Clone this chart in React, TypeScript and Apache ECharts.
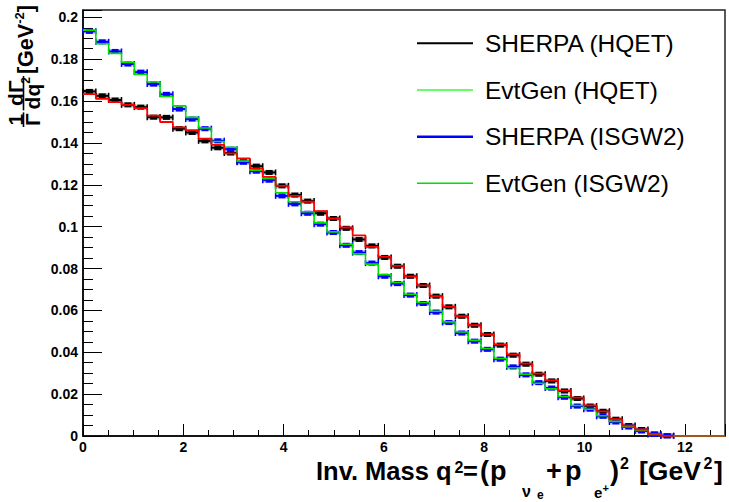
import React, { useEffect, useRef } from "react";
import * as echarts from "echarts";

// ---- data (50 bins, 0 .. 12.8 GeV^2) ----
const X_MIN = 0;
const X_MAX = 12.8;
const N_BINS = 50;
const Y_MAX = 0.2035;

const xTickLabels = ["0", "2", "4", "6", "8", "10", "12"];
const yTickLabels = ["0", "0.02", "0.04", "0.06", "0.08", "0.1", "0.12", "0.14", "0.16", "0.18", "0.2"];

const sherpaHQET = [
  0.1646, 0.1625, 0.1605, 0.1582, 0.1571, 0.1523, 0.1522, 0.1468, 0.145, 0.141,
  0.1377, 0.1352, 0.131, 0.1289, 0.1259, 0.1195, 0.1151, 0.1122, 0.1064, 0.1039,
  0.0992, 0.0939, 0.0908, 0.0853, 0.0811, 0.0763, 0.0719, 0.0668, 0.0617, 0.0572,
  0.0529, 0.0485, 0.0434, 0.0386, 0.0343, 0.0295, 0.0263, 0.0215, 0.0179, 0.0143,
  0.0118, 0.008, 0.005, 0.0031, 0.001, 0.0001, 0, 0, 0, 0,
];
const evtgenHQET = [
  0.1633, 0.1611, 0.1595, 0.1582, 0.1566, 0.153, 0.15, 0.1474, 0.1461, 0.142,
  0.1391, 0.135, 0.1326, 0.1278, 0.1238, 0.1195, 0.1147, 0.1119, 0.1074, 0.1039,
  0.0996, 0.0958, 0.0903, 0.0856, 0.0813, 0.0763, 0.072, 0.0668, 0.0617, 0.0572,
  0.0529, 0.0485, 0.0437, 0.039, 0.0346, 0.0298, 0.0266, 0.0217, 0.0183, 0.0146,
  0.0118, 0.008, 0.005, 0.0031, 0.001, 0.0001, 0, 0, 0, 0,
];
const sherpaISGW2 = [
  0.1933, 0.1883, 0.1837, 0.1777, 0.1738, 0.1681, 0.1632, 0.1562, 0.1514, 0.1468,
  0.141, 0.137, 0.1308, 0.1265, 0.1222, 0.1147, 0.1109, 0.1064, 0.1012, 0.0972,
  0.0911, 0.0876, 0.0826, 0.0763, 0.0728, 0.0673, 0.0633, 0.0592, 0.0542, 0.0492,
  0.0453, 0.0414, 0.0367, 0.033, 0.0292, 0.0255, 0.0229, 0.0185, 0.0143, 0.0128,
  0.0094, 0.0067, 0.0043, 0.0024, 0.0007, 0.0001, 0, 0, 0, 0,
];
const evtgenISGW2 = [
  0.1939, 0.1874, 0.1828, 0.1785, 0.1727, 0.1691, 0.1622, 0.1577, 0.1522, 0.1471,
  0.1407, 0.1379, 0.1313, 0.127, 0.123, 0.1162, 0.1119, 0.1071, 0.1018, 0.0975,
  0.0916, 0.087, 0.0821, 0.077, 0.0733, 0.0677, 0.0638, 0.0596, 0.0545, 0.0497,
  0.0457, 0.0418, 0.037, 0.0326, 0.0295, 0.0252, 0.0225, 0.0189, 0.0146, 0.0128,
  0.0097, 0.007, 0.0045, 0.0026, 0.0008, 0.0001, 0, 0, 0, 0,
];

const legendNames = ["SHERPA (HQET)", "EvtGen (HQET)", "SHERPA (ISGW2)", "EvtGen (ISGW2)"];

// ---- helpers ----
const BW = (X_MAX - X_MIN) / N_BINS;
const edge = (i: number) => X_MIN + i * BW;

function stepData(vals: number[]) {
  const d: number[][] = vals.map((v, i) => [edge(i), v]);
  d.push([X_MAX, vals[vals.length - 1]]);
  return d;
}
function pointData(vals: number[]) {
  const d: number[][] = [];
  vals.forEach((v, i) => {
    if (v > 0) d.push([edge(i), edge(i + 1), v]);
  });
  return d;
}
// empty tail where both EvtGen histograms are zero (drawn brownish where they overlap)
function tailData(a: number[], b: number[]) {
  let first = a.length;
  for (let i = a.length - 1; i >= 0; i--) {
    if (a[i] === 0 && b[i] === 0) first = i;
    else break;
  }
  const d: number[][] = [];
  for (let i = first; i < a.length; i++) d.push([edge(i), 0]);
  d.push([X_MAX, 0]);
  return d;
}

const FONT = "'Liberation Sans', Arial, Helvetica, sans-serif";

let _ctx: CanvasRenderingContext2D | null = null;
function measure(text: string, size: number, weight = "bold") {
  if (!_ctx) _ctx = document.createElement("canvas").getContext("2d");
  if (!_ctx) return text.length * size * 0.55;
  _ctx.font = `${weight} ${size}px ${FONT}`;
  return _ctx.measureText(text).width;
}

function errRender(color: string, halo: string) {
  return (_params: any, api: any) => {
    const lo = api.value(0);
    const hi = api.value(1);
    const v = api.value(2);
    const p0 = api.coord([lo, v]);
    const p1 = api.coord([hi, v]);
    const y = p0[1];
    const xc = (p0[0] + p1[0]) / 2;
    return {
      type: "group",
      children: [
        { type: "line", shape: { x1: p0[0], y1: y, x2: p1[0], y2: y }, style: { stroke: halo, lineWidth: 5 } },
        { type: "line", shape: { x1: p0[0], y1: y, x2: p1[0], y2: y }, style: { stroke: color, lineWidth: 2 } },
        { type: "line", shape: { x1: p0[0], y1: y - 3, x2: p0[0], y2: y + 3 }, style: { stroke: color, lineWidth: 1.5 } },
        { type: "line", shape: { x1: p1[0], y1: y - 3, x2: p1[0], y2: y + 3 }, style: { stroke: color, lineWidth: 1.5 } },
        { type: "rect", shape: { x: xc - 3.5, y: y - 2.5, width: 7, height: 5 }, style: { fill: color } },
      ],
    };
  };
}

function txt(text: string, x: number, y: number, size: number, opts: any = {}) {
  return {
    type: "text",
    x,
    y,
    style: {
      text,
      font: `${opts.weight || "bold"} ${size}px ${FONT}`,
      fill: "#000",
      align: opts.align || "left",
      verticalAlign: "middle",
    },
  };
}

export default function App() {
  const ref = useRef<HTMLDivElement>(null);

  useEffect(() => {
    if (!ref.current) return;
    const chart = echarts.init(ref.current, undefined, { renderer: "svg" });

    const fmtX = (v: number) => {
      const k = Math.round(v / 2);
      return Math.abs(v - k * 2) < 1e-6 && xTickLabels[k] !== undefined ? xTickLabels[k] : "";
    };
    const fmtY = (v: number) => {
      const k = Math.round(v / 0.02);
      return Math.abs(v - k * 0.02) < 1e-7 && yTickLabels[k] !== undefined ? yTickLabels[k] : "";
    };

    // legend
    const legendColors = ["#000000", "#66ff66", "#0000ff", "#00e000"];
    const legendWidths = [2, 2, 2.5, 1.5];
    const legendRowsY = [43.3, 90, 136.7, 183.3];
    const legendEls: any[] = [];
    legendNames.forEach((n, i) => {
      legendEls.push({
        type: "line",
        shape: { x1: 417, y1: legendRowsY[i], x2: 473, y2: legendRowsY[i] },
        style: { stroke: legendColors[i], lineWidth: legendWidths[i] },
      });
      legendEls.push(txt(n, 485, legendRowsY[i], 24.5, { weight: "normal" }));
    });

    // x title pieces (TLatex-like layout)
    const M = 471;
    const F = 25.5;
    const xt = [
      txt("Inv. Mass q", 316, M, F),
      txt("2", 454.5, 467, 16),
      txt("=", 463, M, F),
      txt("(", 480, M, 27),
      txt("p", 490, M, 27),
      txt("\u03bd", 522, 491, 16),
      txt("e", 537, 494.5, 12),
      txt("+", 546, M, 27),
      txt("p", 565, M, 27),
      txt("e", 594, 492.5, 15),
      txt("+", 602.5, 488, 11),
      txt(")", 610, M, 27),
      txt("2", 620, 463, 16),
      txt("[GeV", 639, M, 26.5),
      txt("2", 703.5, 463, 16),
      txt("]", 714, M, 26.5),
    ];

    // y title (rotated group; local x -> screen up, local y -> screen right)
    const FS = 21;
    const GS = 21.5;
    const f1w = Math.max(measure("1", FS), measure("\u0393", FS)) + 2;
    const f1x = -2;
    const dqw = measure("dq", FS);
    const sup2w = measure("2", 12);
    const f2w = Math.max(measure("d\u0393", FS), dqw + sup2w) + 2;
    const f2x = f1x + f1w + 2;
    const gx = f2x + f2w + 2;
    const gw = measure("[GeV", GS);
    const mw = measure("-2", 13);
    const yt = {
      type: "group",
      x: 0,
      y: 125,
      rotation: Math.PI / 2,
      children: [
        txt("1", f1x + f1w / 2, 15.5, FS, { align: "center" }),
        { type: "line", shape: { x1: f1x, y1: 23.5, x2: f1x + f1w, y2: 23.5 }, style: { stroke: "#000", lineWidth: 1.6 } },
        txt("\u0393", f1x + f1w / 2, 32, FS, { align: "center" }),
        txt("d\u0393", f2x + f2w / 2, 15.5, FS, { align: "center" }),
        { type: "line", shape: { x1: f2x, y1: 23.5, x2: f2x + f2w, y2: 23.5 }, style: { stroke: "#000", lineWidth: 1.6 } },
        txt("dq", f2x + (f2w - dqw - sup2w) / 2, 32, FS),
        txt("2", f2x + (f2w - dqw - sup2w) / 2 + dqw, 26, 12),
        txt("[GeV", gx, 26, GS),
        txt("-2", gx + gw, 19, 13),
        txt("]", gx + gw + mw, 26, GS),
      ],
    };

    const option: any = {
      animation: false,
      backgroundColor: "#ffffff",
      grid: {
        left: 83,
        right: 4,
        top: 10,
        bottom: 66,
        show: true,
        borderColor: "#222",
        borderWidth: 1.5,
        backgroundColor: "transparent",
      },
      xAxis: {
        type: "value",
        min: X_MIN,
        max: X_MAX,
        interval: 2,
        axisLine: { show: true, onZero: false, lineStyle: { color: "#000", width: 1.5 } },
        axisTick: { show: true, inside: true, length: 12, lineStyle: { color: "#000", width: 1 } },
        minorTick: { show: true, splitNumber: 4, length: 6, lineStyle: { color: "#000", width: 1 } },
        splitLine: { show: false },
        axisLabel: {
          formatter: fmtX,
          color: "#000",
          fontFamily: FONT,
          fontWeight: "bold",
          fontSize: 14,
          margin: 4,
        },
      },
      yAxis: {
        type: "value",
        min: 0,
        max: Y_MAX,
        interval: 0.02,
        axisLine: { show: true, onZero: false, lineStyle: { color: "#000", width: 1.5 } },
        axisTick: { show: true, inside: true, length: 19, lineStyle: { color: "#000", width: 1 } },
        minorTick: { show: true, splitNumber: 4, length: 10, lineStyle: { color: "#000", width: 1 } },
        splitLine: { show: false },
        axisLabel: {
          formatter: fmtY,
          color: "#000",
          fontFamily: FONT,
          fontWeight: "bold",
          fontSize: 14,
          margin: 5,
        },
      },
      series: [
        {
          name: legendNames[0],
          type: "custom",
          renderItem: errRender("#000000", "rgba(0,0,0,0.25)"),
          encode: { x: [0, 1], y: 2 },
          data: pointData(sherpaHQET),
          z: 2,
        },
        {
          name: legendNames[2],
          type: "custom",
          renderItem: errRender("#0000ff", "rgba(90,90,255,0.35)"),
          encode: { x: [0, 1], y: 2 },
          data: pointData(sherpaISGW2),
          z: 2,
        },
        {
          name: legendNames[3],
          type: "line",
          step: "end",
          showSymbol: false,
          symbol: "none",
          data: stepData(evtgenISGW2),
          lineStyle: { color: "#00e000", width: 1.6 },
          z: 3,
        },
        {
          name: legendNames[1],
          type: "line",
          step: "end",
          showSymbol: false,
          symbol: "none",
          data: stepData(evtgenHQET),
          lineStyle: { color: "#ff0000", width: 1.8 },
          z: 4,
        },
        {
          name: "overlap",
          type: "line",
          showSymbol: false,
          symbol: "none",
          data: tailData(evtgenHQET, evtgenISGW2),
          lineStyle: { color: "#a0561a", width: 2 },
          z: 5,
        },
      ],
      graphic: [...legendEls, ...xt, yt],
    };

    chart.setOption(option);
    return () => chart.dispose();
  }, []);

  return <div ref={ref} style={{ position: "absolute", left: 0, top: 0, width: 729, height: 502 }} />;
}
